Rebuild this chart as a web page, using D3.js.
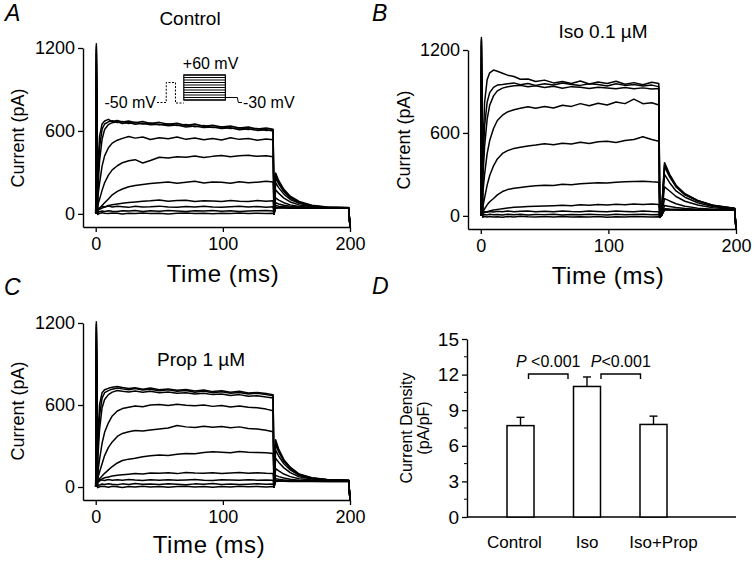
<!DOCTYPE html>
<html><head><meta charset="utf-8">
<script src="https://cdn.jsdelivr.net/npm/d3@7"></script>
<style>
body{margin:0;background:#fff}
svg text{font-family:"Liberation Sans",Arial,Helvetica,sans-serif;fill:#000}
</style>
</head><body>
<svg id="c" width="756" height="568"></svg>
<script>
// ---------------- DATA ----------------
// sample times (ms) shared by every current sweep
const times = [0,0.5,1.5,3,5,7,10,13,17,21,26,31,37,43,50,57,64,71,78,85,92,99,106,113,120,127,134,139.5,
               140.3,141.5,144,148,153,160,170,182,199,200];
const currentTicks = [0,600,1200];
const timeTicks = [0,100,200];

// Panel A: Control (pA)
const sweepsControl = [
 [0,1230,260,560,650,672,684,668,676,664,672,660,668,654,662,648,655,640,650,634,641,628,636,622,628,614,621,612, 0,295,240,178,128,90,62,50,46,-95],
 [0,1210,200,480,612,650,666,674,660,669,654,663,650,658,644,651,640,646,631,639,624,631,617,623,611,618,604,608, 0,280,228,168,121,85,59,48,44,-95],
 [0,1190,150,380,540,610,646,660,666,654,661,649,656,644,648,637,643,629,636,624,628,617,623,609,616,604,609,600, 0,262,215,160,116,82,57,47,43,-95],
 [0,1160,110,220,345,420,478,512,533,546,560,548,556,538,551,544,556,539,549,536,546,534,551,539,546,533,541,536, 0,225,188,143,104,76,55,46,43,-95],
 [0,1100,60,105,170,225,280,318,348,370,384,392,368,386,410,404,414,410,418,407,416,423,414,421,424,416,420,413, 0,175,148,114,86,65,51,44,42,-95],
 [0,1000,30,40,60,80,108,138,163,180,196,205,212,219,226,231,221,229,236,224,231,228,221,233,226,229,236,231, 0,115,100,81,65,53,46,43,41,-95],
 [0,900,25,32,42,50,60,66,72,76,82,86,92,95,101,92,96,99,90,95,93,90,96,92,90,96,91,95, 0,80,72,62,55,48,45,42,41,-95],
 [0,800,20,42,55,50,56,50,55,51,47,55,50,52,56,50,48,53,50,55,50,47,52,55,50,53,48,51, 0,60,55,51,47,45,43,42,41,-95],
 [0,650,10,16,20,17,23,19,17,22,20,25,18,22,19,24,21,17,22,20,25,19,22,17,20,23,24,20, 5,46,45,44,43,42,42,41,40,-95],
 [0,500,-5,4,8,5,2,7,4,-1,5,3,7,2,5,-1,4,6,3,5,0,4,2,6,3,5,2,4, 0,40,42,42,41,41,40,40,40,-95]
];
// Panel B: Iso 0.1 uM (pA)
const sweepsIso = [
 [0,1290,420,820,985,1035,1055,1046,1032,1018,1008,988,990,972,982,962,972,958,976,954,968,958,974,952,964,948,966,958, -10,0,385,300,222,160,112,77,55,-95],
 [0,1275,300,650,822,892,930,946,950,956,962,948,958,944,956,947,961,950,944,956,950,939,956,944,951,939,946,935, -10,0,370,292,216,156,110,76,54,-95],
 [0,1260,250,500,700,800,868,904,924,934,941,944,934,941,929,938,924,935,930,921,931,925,919,928,920,926,917,921, -10,0,355,282,210,152,107,74,53,-95],
 [0,1230,150,300,450,545,632,690,728,752,768,778,790,778,792,780,800,792,812,796,815,802,824,812,845,812,818,802, -10,0,300,240,180,135,95,68,50,-95],
 [0,1150,60,130,222,292,362,412,452,472,488,496,506,512,522,514,526,520,532,524,536,540,531,546,552,572,552,540, -10,0,210,180,140,106,78,58,47,-95],
 [0,1050,30,50,80,102,126,152,176,190,200,206,212,218,222,220,228,226,232,236,240,238,244,246,248,250,246,244, -10,0,125,108,88,70,56,48,44,-95],
 [0,900,20,25,30,36,42,47,52,57,62,64,67,70,72,74,77,73,80,76,82,79,84,81,86,83,86,82, -10,0,75,68,60,53,47,44,42,-95],
 [0,750,20,30,26,31,28,33,30,35,30,33,36,30,33,30,36,32,30,35,32,30,35,32,30,36,32,30, -10,0,52,49,47,45,43,42,41,-95],
 [0,600,5,10,7,12,8,10,6,11,8,12,7,10,9,12,7,10,8,12,9,7,11,8,10,12,8,10, -10,0,45,44,43,43,42,42,41,-95],
 [0,500,-10,-5,-8,-4,-9,-6,-10,-5,-8,-3,-7,-9,-5,-8,-4,-9,-6,-8,-5,-10,-6,-8,-4,-7,-9,-6, -12,0,42,42,42,41,41,41,40,-95]
];
// Panel C: Prop 1 uM (pA)
const sweepsProp = [
 [0,1210,300,600,690,712,722,730,736,728,720,726,716,724,712,718,708,714,702,710,698,704,694,700,688,692,684,676, 0,345,275,200,145,95,68,55,50,-95],
 [0,1190,250,520,650,690,705,716,724,718,711,720,709,716,704,711,700,706,694,702,690,697,686,692,680,686,676,668, 0,330,265,195,140,92,66,54,49,-95],
 [0,1170,180,420,580,640,676,694,706,700,696,702,694,700,690,696,686,690,680,686,676,680,670,676,664,668,658,652, 0,315,255,188,136,90,65,53,48,-95],
 [0,1130,100,200,320,400,470,520,556,574,584,592,588,600,604,596,606,598,594,600,590,596,586,592,584,580,570,558, 0,270,225,170,125,85,62,52,47,-95],
 [0,1080,60,110,170,230,290,330,370,392,405,414,410,418,425,432,450,440,436,444,438,442,434,440,428,424,416,405, 0,210,180,140,105,75,58,50,46,-95],
 [0,1000,40,60,80,100,125,150,176,194,204,210,222,228,234,230,240,246,244,252,258,254,250,260,255,252,250,246, 0,135,118,95,76,60,51,46,44,-95],
 [0,900,40,50,60,68,74,80,86,90,94,98,96,102,100,104,98,106,102,100,104,98,102,106,100,104,100,98, 0,85,76,66,57,50,46,44,43,-95],
 [0,800,30,45,52,48,55,50,53,49,55,51,48,54,50,53,49,52,55,50,48,53,51,49,54,50,52,49, 0,60,56,52,48,46,44,43,42,-95],
 [0,650,10,15,22,18,24,20,17,23,19,25,20,22,18,24,20,17,23,21,25,19,22,18,21,24,20,22, 5,45,45,44,43,42,42,41,40,-95],
 [0,500,-5,2,6,3,-2,5,2,-3,4,1,6,0,4,-2,3,5,1,4,-1,3,0,5,2,4,1,3, 0,40,42,42,41,41,40,40,40,-95]
];

// Voltage protocol inset (schematic time units, mV)
const protoPre = [[0,-50],[10,-50],[10,30],[20,30],[20,-52],[29,-52]];
const protoTestStart = 29, protoTestEnd = 74;
const protoLevels = [-40,-30,-20,-10,0,10,20,30,40,50,60];
const protoTail = [[74,-30],[87,-30],[88,-50],[92,-50]];

// Panel D: current density bars
const groups = ["Control","Iso","Iso+Prop"];
const densityMean = [7.7,11.0,7.8];
const densitySEM = [0.7,0.8,0.7];
const densityTicks = [0,3,6,9,12,15];
const densityMinor = [1.5,4.5,7.5,10.5,13.5];
const comparisons = [{a:0,b:1,label:"<0.001"},{a:1,b:2,label:"<0.001"}];

// ---------------- DRAWING ----------------
const svg = d3.select("#c");
const FONT = '"Liberation Sans",Arial,Helvetica,sans-serif';

function styleAxis(g, fs){
  g.attr("font-family", FONT).attr("font-size", fs);
  g.select(".domain").attr("stroke","#000").attr("stroke-width",1.4);
  g.selectAll(".tick line").attr("stroke","#000").attr("stroke-width",1.3);
  g.selectAll(".tick text").attr("fill","#000");
}

function tracePanel(cfg){
  const x = d3.scaleLinear().domain([-10,200]).range(cfg.xr);
  const y = d3.scaleLinear().domain([-95,1200]).range(cfg.yr);
  const g = svg.append("g");
  const line = d3.line().x((d,i)=>x(times[i])).y(d=>y(d));
  g.selectAll("path.tr").data(cfg.traces).join("path").attr("class","tr")
    .attr("d", line).attr("fill","none").attr("stroke","#000")
    .attr("stroke-width",1.5).attr("stroke-linejoin","round");
  const ya = d3.axisLeft(y).tickValues(currentTicks).tickSize(5).tickSizeOuter(0).tickPadding(3).tickFormat(d3.format("d"));
  styleAxis(g.append("g").attr("transform",`translate(${cfg.xr[0]},0)`).call(ya), 18);
  const xa = d3.axisBottom(x).tickValues(timeTicks).tickSize(5).tickSizeOuter(0).tickPadding(5).tickFormat(d3.format("d"));
  styleAxis(g.append("g").attr("transform",`translate(0,${cfg.yr[0]})`).call(xa), 18);
  // labels
  g.append("text").attr("transform",`translate(${cfg.ylab[0]},${cfg.ylab[1]}) rotate(-90)`)
    .attr("text-anchor","middle").attr("font-size",18).text("Current (pA)");
  g.append("text").attr("x",cfg.xlab[0]).attr("y",cfg.xlab[1]).attr("text-anchor","middle")
    .attr("font-size",24).attr("letter-spacing",0.6).text("Time (ms)");
  g.append("text").attr("x",cfg.title[0]).attr("y",cfg.title[1]).attr("text-anchor","middle")
    .attr("font-size",19).text(cfg.titleText);
  g.append("text").attr("x",cfg.letter[0]).attr("y",cfg.letter[1]).attr("font-size",23)
    .attr("font-style","italic").text(cfg.letterText);
  return {x,y,g};
}

tracePanel({traces:sweepsControl, xr:[83,350], yr:[227,48], ylab:[24,138], xlab:[223,282],
  title:[190,25], titleText:"Control", letter:[5,21], letterText:"A"});
tracePanel({traces:sweepsIso, xr:[468,736], yr:[229,50], ylab:[410,140], xlab:[608,284],
  title:[603,38], titleText:"Iso 0.1 \u00B5M", letter:[372,21], letterText:"B"});
tracePanel({traces:sweepsProp, xr:[83,350], yr:[500,323], ylab:[24,411], xlab:[209,553],
  title:[201,366], titleText:"Prop 1 \u00B5M", letter:[4,295], letterText:"C"});

// voltage protocol inset in panel A
(function(){
  const px = d3.scaleLinear().domain([0,92]).range([157,242]);
  const pv = d3.scaleLinear().domain([-50,60]).range([102.5,75]);
  const g = svg.append("g");
  const ln = d3.line().x(d=>px(d[0])).y(d=>pv(d[1]));
  g.append("path").attr("d",ln(protoPre)).attr("fill","none").attr("stroke","#000")
    .attr("stroke-width",1).attr("stroke-dasharray","2,1.5");
  g.selectAll("line.lv").data(protoLevels).join("line").attr("class","lv")
    .attr("x1",px(protoTestStart)).attr("x2",px(protoTestEnd))
    .attr("y1",d=>pv(d)).attr("y2",d=>pv(d)).attr("stroke","#000").attr("stroke-width",1.1);
  g.append("rect").attr("x",px(protoTestStart)).attr("y",pv(60))
    .attr("width",px(protoTestEnd)-px(protoTestStart)).attr("height",pv(-40)-pv(60))
    .attr("fill","none").attr("stroke","#000").attr("stroke-width",1.2);
  g.append("path").attr("d",ln(protoTail)).attr("fill","none").attr("stroke","#000").attr("stroke-width",1);
  g.append("text").attr("x",px(0)-1).attr("y",pv(-50)+5).attr("text-anchor","end").attr("font-size",16).text("-50 mV");
  g.append("text").attr("x",px(protoTestStart)-1).attr("y",pv(60)-6).attr("font-size",16).text("+60 mV");
  g.append("text").attr("x",px(92)+1).attr("y",pv(-50)+5).attr("font-size",16).text("-30 mV");
})();

// Panel D: bar chart
(function(){
  const g = svg.append("g");
  const y = d3.scaleLinear().domain([0,15]).range([517,339]);
  const x = d3.scalePoint().domain(groups).range([520.5,653.5]);
  const bw = 27;
  const ya = d3.axisLeft(y).tickValues(densityTicks).tickSize(5).tickSizeOuter(0).tickPadding(3);
  styleAxis(g.append("g").attr("transform","translate(467,0)").call(ya), 19);
  g.selectAll("line.mn").data(densityMinor).join("line").attr("class","mn")
    .attr("x1",464).attr("x2",467).attr("y1",d=>y(d)).attr("y2",d=>y(d)).attr("stroke","#000").attr("stroke-width",1);
  g.append("line").attr("x1",467).attr("x2",736).attr("y1",y(0)).attr("y2",y(0)).attr("stroke","#000").attr("stroke-width",1.5);
  // error bars
  g.selectAll("line.eb").data(groups).join("line").attr("class","eb")
    .attr("x1",d=>x(d)).attr("x2",d=>x(d)).attr("y1",(d,i)=>y(densityMean[i])).attr("y2",(d,i)=>y(densityMean[i]+densitySEM[i]))
    .attr("stroke","#000").attr("stroke-width",1.4);
  g.selectAll("line.cap").data(groups).join("line").attr("class","cap")
    .attr("x1",d=>x(d)-4).attr("x2",d=>x(d)+4).attr("y1",(d,i)=>y(densityMean[i]+densitySEM[i])).attr("y2",(d,i)=>y(densityMean[i]+densitySEM[i]))
    .attr("stroke","#000").attr("stroke-width",1.4);
  g.selectAll("rect.bar").data(groups).join("rect").attr("class","bar")
    .attr("x",d=>x(d)-bw/2).attr("width",bw).attr("y",(d,i)=>y(densityMean[i])).attr("height",(d,i)=>y(0)-y(densityMean[i]))
    .attr("fill","#fff").attr("stroke","#000").attr("stroke-width",1.5);
  const labelDx = [-6,0,10];
  g.selectAll("text.cat").data(groups).join("text").attr("class","cat")
    .attr("x",(d,i)=>x(d)+labelDx[i]).attr("y",548).attr("text-anchor","middle").attr("font-size",17).text(d=>d);
  // significance brackets
  const brX = [[8,-19],[14,-13]];
  comparisons.forEach((c,i)=>{
    const x1 = x(groups[c.a]) + brX[i][0], x2 = x(groups[c.b]) + brX[i][1];
    const yb = y(12.05);
    g.append("path").attr("d",`M${x1},${yb+5}V${yb}H${x2}V${yb+5}`).attr("fill","none").attr("stroke","#000").attr("stroke-width",1.4);
    const t = g.append("text").attr("x",(x1+x2)/2).attr("y",yb-7).attr("text-anchor","middle").attr("font-size",16);
    t.append("tspan").attr("font-style","italic").text("P");
    t.append("tspan").text((i===0?" ":"")+c.label);
  });
  g.append("text").attr("transform","translate(412,428) rotate(-90)").attr("text-anchor","middle").attr("font-size",16).text("Current Density");
  g.append("text").attr("transform","translate(429,428) rotate(-90)").attr("text-anchor","middle").attr("font-size",16).text("(pA/pF)");
  g.append("text").attr("x",372).attr("y",294).attr("font-size",23).attr("font-style","italic").text("D");
})();
</script>
</body></html>
